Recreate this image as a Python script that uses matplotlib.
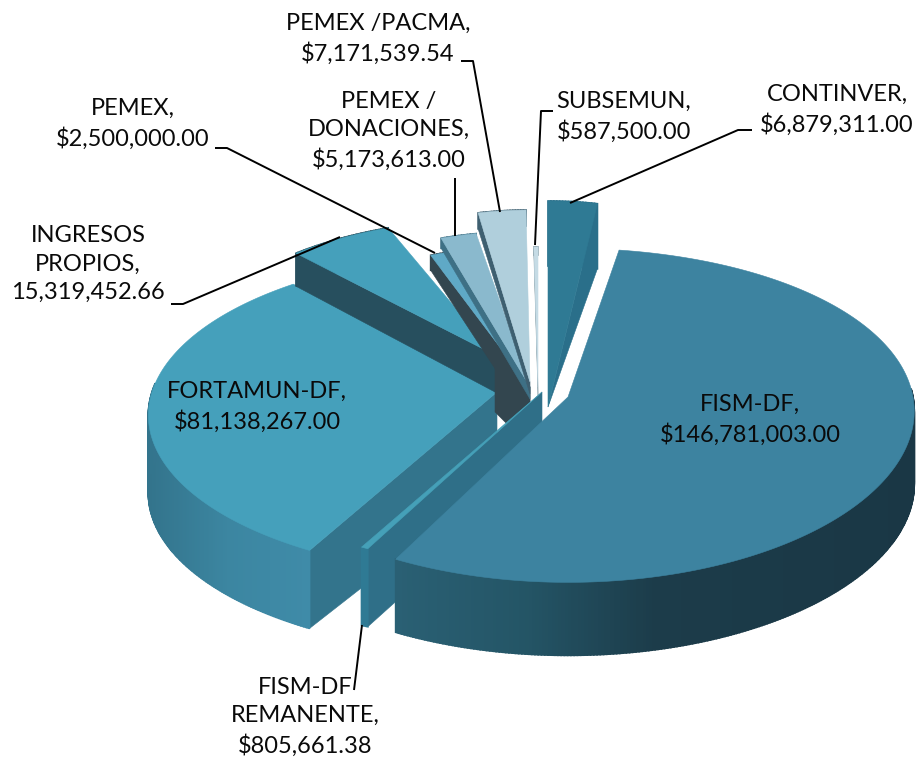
import numpy as np
import matplotlib
matplotlib.use("Agg")
import matplotlib.pyplot as plt
from matplotlib.colors import LinearSegmentedColormap

plt.rcParams['font.family'] = ['Lato', 'DejaVu Sans']

# ---- data (clockwise from 12 o'clock) ----
names = ["CONTINVER", "FISM-DF", "FISM-DF REMANENTE", "FORTAMUN-DF", "INGRESOS PROPIOS",
         "PEMEX", "PEMEX / DONACIONES", "PEMEX /PACMA", "SUBSEMUN"]
values = [6879311.00, 146781003.00, 805661.38, 81138267.00, 15319452.66,
          2500000.00, 5173613.00, 7171539.54, 587500.00]
labels = ["CONTINVER,\n$6,879,311.00", "FISM-DF,\n$146,781,003.00", "FISM-DF\nREMANENTE,\n$805,661.38",
          "FORTAMUN-DF,\n$81,138,267.00", "INGRESOS\nPROPIOS,\n15,319,452.66", "PEMEX,\n$2,500,000.00",
          "PEMEX /\nDONACIONES,\n$5,173,613.00", "PEMEX /PACMA,\n$7,171,539.54", "SUBSEMUN,\n$587,500.00"]

# ---- styling: pseudo-3D geometry of each exploded slice ----
# ax, ay, rx, ry, kx, ky, depth outer, depth at apex
geom = {
    "CONTINVER":          (548, 407, 306, 206, 0, 0, 65, 0),
    "FISM-DF":            (568, 397, 345, 167, .085, .11, 73, 73),
    "FISM-DF REMANENTE":  (542, 392, 375, 177, 0, 0, 78, 78),
    "FORTAMUN-DF":        (497, 392, 345, 161, .147, .14, 78, 90),
    "INGRESOS PROPIOS":   (495, 355, 300, 136, 0, 0, 33, 37),
    "PEMEX":              (530, 387, 279, 141, 0, 0, 15, 35),
    "PEMEX / DONACIONES": (530, 387, 296, 156, 0, 0, 10, 12),
    "PEMEX /PACMA":       (530, 382, 285, 172, 0, 0, 16, 12),
    "SUBSEMUN":           (538, 387, 300, 140, 0, 0, 8, 8),
}
top_col = {
    "CONTINVER": "#2f7a94", "FISM-DF": "#3d83a0", "FISM-DF REMANENTE": "#45a0b8",
    "FORTAMUN-DF": "#45a0bb", "INGRESOS PROPIOS": "#45a0bb", "PEMEX": "#5fa9c6",
    "PEMEX / DONACIONES": "#8ab9cd", "PEMEX /PACMA": "#b0cfdc", "SUBSEMUN": "#c5dbe5",
}
# colour of the cut faces at the first and the second edge (None = not drawn)
face_col = {
    "CONTINVER": (None, "#2a6f8a"), "FISM-DF": (None, None),
    "FISM-DF REMANENTE": ("#2f6f88", None), "FORTAMUN-DF": ("#33748c", None),
    "INGRESOS PROPIOS": ("#274f5e", None), "PEMEX": ("#33464f", None),
    "PEMEX / DONACIONES": ("#3e7085", None), "PEMEX /PACMA": ("#3e5f70", None),
    "SUBSEMUN": ("#8fa5ae", None),
}
wall_cmap = {
    "FISM-DF": LinearSegmentedColormap.from_list(
        "a", [(0, "#1a3745"), (.5, "#1c3c4a"), (.75, "#245566"), (1, "#2a6074")]),
    "FORTAMUN-DF": LinearSegmentedColormap.from_list("b", ["#33748c", "#3c86a1", "#3f8ba8"]),
    "FISM-DF REMANENTE": LinearSegmentedColormap.from_list("c", ["#2f7a94", "#2f7a94"]),
}
draw_order = ["FORTAMUN-DF", "INGRESOS PROPIOS", "PEMEX", "PEMEX / DONACIONES", "PEMEX /PACMA",
              "SUBSEMUN", "CONTINVER", "FISM-DF REMANENTE", "FISM-DF"]

fig = plt.figure(figsize=(9.17, 7.63), dpi=100)
ax = fig.add_axes([0, 0, 1, 1])
ax.set_xlim(0, 917)
ax.set_ylim(763, 0)
ax.axis("off")

edges = np.concatenate([[0], np.cumsum(values)]) / np.sum(values) * 2 * np.pi
spans = {n: (edges[i], edges[i + 1]) for i, n in enumerate(names)}


def rim(name, t):
    a, b, rx, ry, kx, ky, _, _ = geom[name]
    s, c = np.sin(t), np.cos(t)
    return a + rx * s * (1 - kx * c), b - ry * c * (1 - ky * c)


for name in draw_order:
    t0, t1 = spans[name]
    a, b, _, _, _, _, d_out, d_in = geom[name]
    ts = np.linspace(t0, t1, max(4, int(np.degrees(t1 - t0) * 2)))
    xs, ys = rim(name, ts)
    # dark hub where the small slices meet, between INGRESOS and PEMEX apex
    if name == "PEMEX":
        ia, ib = geom["INGRESOS PROPIOS"][:2]
        ax.fill([ia, a, a, ia], [ib, b, b + 60, ib + 57], color=face_col[name][0], lw=0.4, zorder=1)
    # cut faces
    for col, i in zip(face_col[name], (0, -1)):
        if col:
            ax.fill([a, xs[i], xs[i], a], [b, ys[i], ys[i] + d_out, b + d_in],
                    color=col, lw=0.4, zorder=1)
    # outer wall, shaded along the rim
    cmap = wall_cmap.get(name)
    for j in range(len(ts) - 1):
        if np.cos(ts[j]) > 0.05 and cmap is not None:
            continue
        if cmap is None:
            col = face_col[name][0] or face_col[name][1]
        else:
            frac = (xs[j] - xs.min()) / (xs.max() - xs.min())
            col = cmap(1 - frac if name == "FISM-DF" else frac)
        ax.fill([xs[j], xs[j + 1], xs[j + 1], xs[j]],
                [ys[j], ys[j + 1], ys[j + 1] + d_out, ys[j] + d_out],
                color=col, lw=1.2, zorder=1)
    # top surface
    ax.fill(np.r_[a, xs], np.r_[b, ys], color=top_col[name], lw=0.4, zorder=1)

# ---- leader lines ----
leaders = [
    ([215, 227, 435], [148, 148, 253]),
    ([455, 455], [178, 236]),
    ([461, 473, 500], [61, 61, 212]),
    ([553, 541, 535], [111, 111, 245]),
    ([752, 738, 570], [130, 130, 203]),
    ([171, 183, 340], [304, 304, 237]),
    ([362, 354], [625, 690]),
]
for lx, ly in leaders:
    ax.plot(lx, ly, color="black", lw=1.4, zorder=3, solid_capstyle="butt")

# ---- labels ----
label_pos = {
    "CONTINVER": (837, 110), "FISM-DF": (750, 420), "FISM-DF REMANENTE": (305, 717),
    "FORTAMUN-DF": (257, 407), "INGRESOS PROPIOS": (88, 264), "PEMEX": (133, 124),
    "PEMEX / DONACIONES": (389, 131), "PEMEX /PACMA": (378, 39), "SUBSEMUN": (624, 117),
}
for n, lab in zip(names, labels):
    x, y = label_pos[n]
    ax.text(x, y, lab, ha="center", va="center", fontsize=17, color="#0a0a0a",
            linespacing=1.42, zorder=4)

fig.savefig("out.png", dpi=100, facecolor="white")
